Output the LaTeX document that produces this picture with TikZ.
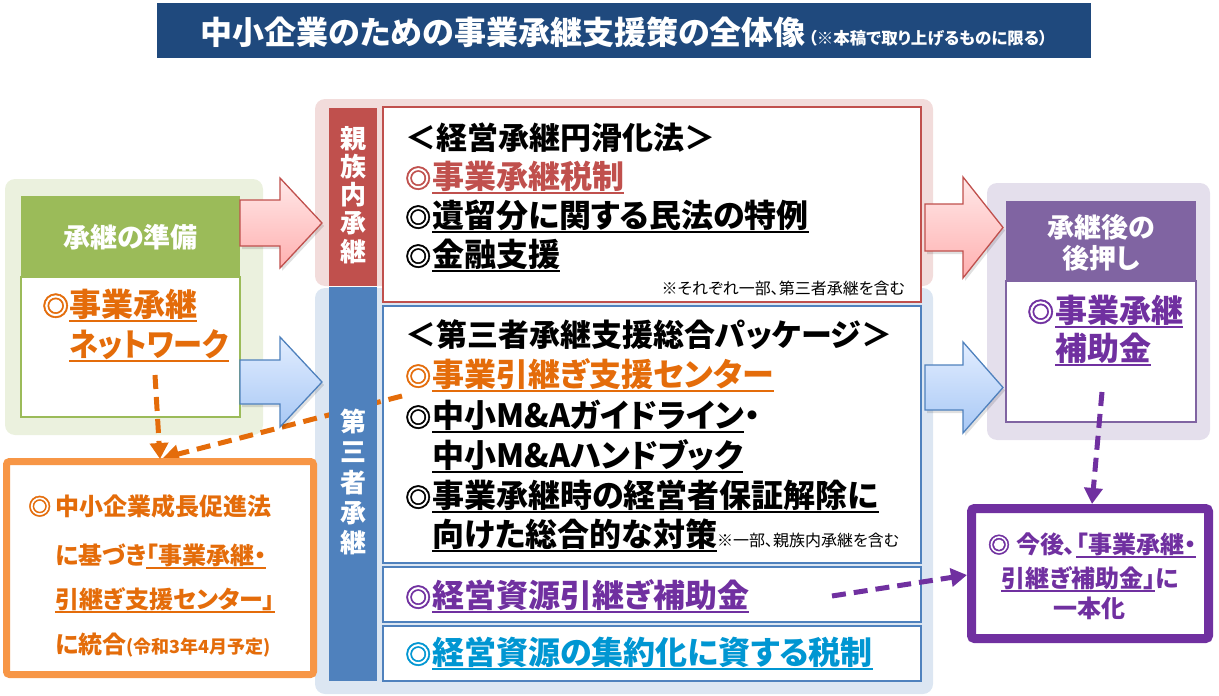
\documentclass[tikz,border=0pt]{standalone}
\usepackage{fontspec}
\usepackage{graphicx}
\setmainfont{Noto Sans CJK JP}[RawFeature=+palt]
\newfontfamily\dmfont{Noto Sans CJK JP}[FakeBold=2]
\usetikzlibrary{arrows.meta}
\definecolor{titlebg}{HTML}{1F497D}
\definecolor{greenbg}{HTML}{EBF1DE}
\definecolor{greenhd}{HTML}{9BBB59}
\definecolor{pinkbg}{HTML}{F2DCDB}
\definecolor{redbar}{HTML}{C0504D}
\definecolor{bluebg}{HTML}{DCE6F2}
\definecolor{bluebar}{HTML}{4F81BD}
\definecolor{purplebg}{HTML}{E4DFEC}
\definecolor{purplehd}{HTML}{8064A2}
\definecolor{orangeb}{HTML}{F79646}
\definecolor{orangetx}{HTML}{E46C0A}
\definecolor{purpletx}{HTML}{7030A0}
\definecolor{cyantx}{HTML}{0096D2}
\definecolor{pinkA}{HTML}{FFE8E8}
\definecolor{pinkB}{HTML}{FFB0B0}
\definecolor{blueA}{HTML}{E2EDFF}
\definecolor{blueB}{HTML}{A8C8F5}
\newcommand\ulin[1]{\setbox0=\hbox{#1}\rlap{\rule[-0.2em]{\wd0}{0.085em}}\box0}
\newcommand\dm[2]{\makebox[#1][l]{\dmfont\bfseries\fontsize{#2}{#2}\selectfont ◎}}
\tikzset{
  big/.style={anchor=base west, inner sep=0pt, font=\fontsize{32}{32}\selectfont\bfseries},
  side/.style={anchor=base west, inner sep=0pt, font=\fontsize{32}{32}\selectfont\bfseries},
  hdr/.style={anchor=base, inner sep=0pt, text=white, font=\fontsize{27}{27}\selectfont\bfseries},
  vbar/.style={anchor=center, inner sep=0pt, text=white, align=center},
  obox/.style={anchor=base west, inner sep=0pt, text=orangetx, font=\fontsize{24}{24}\selectfont\bfseries},
  pbox/.style={anchor=base, inner sep=0pt, text=purpletx, font=\fontsize{24}{24}\selectfont\bfseries},
  note/.style={anchor=base east, inner sep=0pt, font=\fontsize{16}{16}\selectfont},
  pinkarrow/.style={draw=redbar, line width=1.3pt, top color=pinkA, bottom color=pinkB},
  bluearrow/.style={draw=bluebar, line width=1.3pt, top color=blueA, bottom color=blueB},
  odash/.style={draw=orangetx, line width=5pt, dash pattern=on 14pt off 8pt, -{Triangle[length=16pt,width=18pt]}},
  pdash/.style={draw=purpletx, line width=5pt, dash pattern=on 14pt off 8pt, -{Triangle[length=16pt,width=18pt]}},
  shadowfill/.style={fill=black, opacity=0.12}
}
\begin{document}
\begin{tikzpicture}[x=1pt,y=-1pt]
\useasboundingbox (0,0) rectangle (1219,696);
% title
\fill[titlebg] (157,3) rectangle (1091,58);
\node[anchor=base, inner sep=0pt, text=white, font=\fontsize{32}{32}\selectfont\bfseries] (title) at (624,44)
  {中小企業のための事業承継支援策の全体像\hspace{3pt}{\fontsize{16.5}{16.5}\selectfont （※本稿で取り上げるものに限る）}};
% backgrounds
\fill[greenbg, rounded corners=10pt] (5,179) rectangle (263,435);
\fill[pinkbg, rounded corners=10pt] (315,99) rectangle (933,286);
\fill[bluebg, rounded corners=10pt] (315,288) rectangle (933,694);
\fill[purplebg, rounded corners=10pt] (987,183) rectangle (1210,440);
% left boxes
\fill[greenhd] (21,196) rectangle (240,277);
\draw[greenhd, line width=1.5pt, fill=white] (21,277) rectangle (240,417);
\node[hdr] (prep) at (130.5,247) {承継の準備};
\node[side, text=orangetx] (net1) at (42,316) {\dm{27pt}{27}\ulin{事業承継}};
\node[side, text=orangetx] (net2) at (69,356) {\ulin{\scalebox{0.91}[1]{ネットワーク}}};
% right boxes
\fill[purplehd] (1006,201) rectangle (1196,281);
\draw[purplehd, line width=1.5pt, fill=white] (1006,281) rectangle (1196,422);
\node[hdr] (after1) at (1101,237) {承継後の};
\node[hdr] (after2) at (1101,268) {後押し};
\node[side, text=purpletx] (sub1) at (1027,322) {\dm{28pt}{27}\ulin{事業承継}};
\node[side, text=purpletx] (sub2) at (1055,360) {\ulin{補助金}};
% center boxes
\draw[redbar, line width=1.8pt, fill=white] (383,107) rectangle (921,302);
\draw[bluebar, line width=1.8pt, fill=white] (383,306) rectangle (921,563);
\draw[bluebar, line width=1.8pt, fill=white] (383,567) rectangle (921,622);
\draw[bluebar, line width=1.8pt, fill=white] (383,626) rectangle (921,681);
% red box text
\node[big, font=\fontsize{31}{31}\selectfont\bfseries] (r1) at (405,149) {＜経営承継円滑化法＞};
\node[big, text=redbar] (r2) at (405,188) {\dm{27pt}{26}\ulin{事業承継税制}};
\node[big] (r3) at (405,227) {\dm{27pt}{26}\ulin{遺留分に関する民法の特例}};
\node[big] (r4) at (405,266) {\dm{27pt}{26}\ulin{金融支援}};
\node[note] (rn) at (905,294) {※それぞれ一部、第三者承継を含む};
% blue box text
\node[big, font=\fontsize{31}{31}\selectfont\bfseries] (b1) at (405,346) {＜第三者承継支援総合パッケージ＞};
\node[big, text=orangetx] (b2) at (405,386) {\dm{27pt}{26}\ulin{事業引継ぎ支援センター}};
\node[big] (b3) at (405,427) {\dm{27pt}{26}\ulin{中小M\&Aガイドライン}・};
\node[big] (b4) at (432,467) {\ulin{中小M\&Aハンドブック}};
\node[big] (b5) at (405,507) {\dm{27pt}{26}\ulin{事業承継時の経営者保証解除に}};
\node[big] (b6) at (432,546) {\ulin{向けた総合的な対策}{\mdseries\fontsize{16}{16}\selectfont ※一部、親族内承継を含む}};
\node[big, text=purpletx] (b7) at (405,607) {\dm{27pt}{26}\ulin{経営資源引継ぎ補助金}};
\node[big, text=cyantx] (b8) at (405,664) {\dm{27pt}{26}\ulin{経営資源の集約化に資する税制}};
% orange dashed diagonal (under the bar)
\coordinate (oC) at (402,396);
\coordinate (oD) at (163,458);
\draw[odash] (oC) -- (oD);
% bars
\fill[redbar] (329,108) rectangle (377,286);
\fill[bluebar] (329,287) rectangle (377,681);
\node[vbar, font=\fontsize{26}{28.2}\selectfont\bfseries] (kin) at (353,195) {親\\族\\内\\承\\継};
\node[vbar, font=\fontsize{26}{30.2}\selectfont\bfseries] (third) at (353,482) {第\\三\\者\\承\\継};
% arrows
\fill[shadowfill] (242,203) -- (282,203) -- (282,181) -- (324,226) -- (282,271) -- (282,249) -- (242,249) -- cycle;
\draw[pinkarrow] (240,200) -- (280,200) -- (280,178) -- (322,223) -- (280,268) -- (280,246) -- (240,246) -- cycle;
\fill[shadowfill] (242,363) -- (282,363) -- (282,340) -- (324,385) -- (282,430) -- (282,407) -- (242,407) -- cycle;
\draw[bluearrow] (240,360) -- (280,360) -- (280,337) -- (322,382) -- (280,427) -- (280,404) -- (240,404) -- cycle;
\fill[shadowfill] (927,207) -- (965,207) -- (965,180) -- (1005,230.5) -- (965,281) -- (965,254) -- (927,254) -- cycle;
\draw[pinkarrow] (925,204) -- (963,204) -- (963,177) -- (1003,227.5) -- (963,278) -- (963,251) -- (925,251) -- cycle;
\fill[shadowfill] (927,368) -- (965,368) -- (965,345) -- (1005,390.5) -- (965,436) -- (965,413) -- (927,413) -- cycle;
\draw[bluearrow] (925,365) -- (963,365) -- (963,342) -- (1003,387.5) -- (963,433) -- (963,410) -- (925,410) -- cycle;
% orange box
\draw[orangeb, line width=7pt, fill=white, rounded corners=3pt] (6.5,461.5) rectangle (313.5,674.5);
\node[obox] (o1) at (28,515) {\dm{27pt}{23}中小企業成長促進法};
\node[obox] (o2) at (55,564) {に基づき\ulin{「事業承継・}};
\node[obox] (o3) at (55,608) {\ulin{引継ぎ支援センター」}};
\node[obox] (o4) at (55,653) {に統合{\fontsize{18}{18}\selectfont(令和3年4月予定)}};
% purple box
\draw[purpletx, line width=9pt, fill=white, rounded corners=3pt] (971.5,508.5) rectangle (1208.5,638.5);
\node[pbox] (p1) at (1092,553) {\dm{28pt}{22}今後、\ulin{「事業承継・}};
\node[pbox] (p2) at (1090,587) {\ulin{引継ぎ補助金」}に};
\node[pbox] (p3) at (1089,617) {一本化};
% dashed connectors
\coordinate (oA) at (155,375);
\coordinate (oB) at (160,459);
\draw[odash] (oA) -- (oB);
\coordinate (pA) at (1102,392);
\coordinate (pB) at (1092,504);
\draw[pdash] (pA) -- (pB);
\coordinate (pC) at (832,596);
\coordinate (pD) at (967,575);
\draw[pdash] (pC) -- (pD);
\end{tikzpicture}
\end{document}
